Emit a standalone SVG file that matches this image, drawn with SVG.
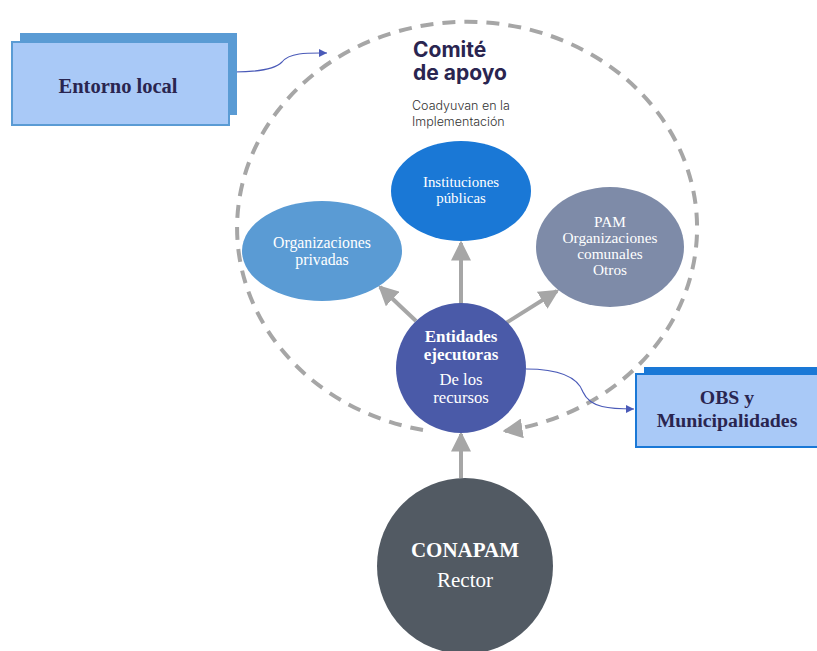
<svg xmlns="http://www.w3.org/2000/svg" width="817" height="651" viewBox="0 0 817 651">
<defs>
<style>
.serif{font-family:"Liberation Serif","DejaVu Serif",serif;text-anchor:middle}
.w{fill:#ffffff}
.dk{fill:#2a2550}
.gray{stroke:#a6a6a6;stroke-width:4;fill:none}
.thin{stroke:#4a5ab8;stroke-width:1.2;fill:none}
</style>
<marker id="ag" markerUnits="userSpaceOnUse" markerWidth="20" markerHeight="20" refX="14" refY="8" orient="auto" viewBox="0 0 16 16">
<path d="M0,0 L16,8 L0,16 Z" fill="#a6a6a6"/>
</marker>
<marker id="ab" markerUnits="userSpaceOnUse" markerWidth="8" markerHeight="8" refX="6" refY="3" orient="auto" viewBox="0 0 6 6">
<path d="M0,0 L6,3 L0,6 Z" fill="#4a5ab8"/>
</marker>
</defs>
<rect width="817" height="651" fill="#ffffff"/>

<g id="connectors">
<path class="gray" stroke-width="3" stroke-dasharray="13 9" d="M 423 430 A 230 206 0 1 1 505 431" marker-end="url(#ag)"/>
<line class="gray" x1="461" y1="478" x2="461" y2="434" marker-end="url(#ag)"/>
<line class="gray" x1="461" y1="304" x2="461" y2="243" marker-end="url(#ag)"/>
<line class="gray" x1="416" y1="321" x2="380" y2="287" marker-end="url(#ag)"/>
<line class="gray" x1="506" y1="323" x2="557" y2="291" marker-end="url(#ag)"/>
<path class="thin" d="M 234 72 C 262 72 276 68 282 62 C 290 52 310 53 327 53" marker-end="url(#ab)"/>
<path class="thin" d="M 526 369 C 560 369 578 378 583 392 C 590 408 610 409 634 409" marker-end="url(#ab)"/>
</g>

<g id="comite">
<text x="413" y="57" font-family="Inter,'Noto Sans',sans-serif" font-weight="700" font-size="21" fill="#2a2550">Comité</text>
<text x="413" y="80" font-family="Inter,'Noto Sans',sans-serif" font-weight="700" font-size="21" fill="#2a2550">de apoyo</text>
<text x="412" y="110" font-family="Inter,'Noto Sans',sans-serif" font-weight="300" font-size="12.5" fill="#333333">Coadyuvan en la</text>
<text x="412" y="126" font-family="Inter,'Noto Sans',sans-serif" font-weight="300" font-size="12.5" fill="#333333">Implementación</text>
</g>

<g id="entorno">
<rect x="20" y="33" width="217" height="82" fill="#5a9bd4"/>
<rect x="12" y="42" width="217" height="83" fill="#a9c9f7" stroke="#5a9bd4" stroke-width="2"/>
<text class="serif dk" x="118" y="93" font-size="20.5" font-weight="700">Entorno local</text>
</g>

<g id="obs">
<rect x="644" y="367" width="180" height="75" fill="#1a78d6"/>
<rect x="636" y="374" width="190" height="73" fill="#a9c9f7" stroke="#1a78d6" stroke-width="2"/>
<text class="serif dk" x="727" y="404" font-size="19.8" font-weight="700">OBS y</text>
<text class="serif dk" x="727" y="427" font-size="19.8" font-weight="700">Municipalidades</text>
</g>

<g id="instituciones">
<ellipse cx="461" cy="191" rx="70" ry="50" fill="#1a78d6"/>
<text class="serif w" x="461" y="187" font-size="14.9">Instituciones</text>
<text class="serif w" x="461" y="203" font-size="14.9">públicas</text>
</g>

<g id="privadas">
<ellipse cx="322" cy="251" rx="80" ry="50" fill="#5a9bd4"/>
<text class="serif w" x="322" y="248" font-size="15.8">Organizaciones</text>
<text class="serif w" x="322" y="265" font-size="15.8">privadas</text>
</g>

<g id="pam">
<ellipse cx="610" cy="247" rx="74" ry="60" fill="#7e8ba8"/>
<text class="serif w" x="610" y="227" font-size="15.3">PAM</text>
<text class="serif w" x="610" y="243" font-size="15.3">Organizaciones</text>
<text class="serif w" x="610" y="259" font-size="15.3">comunales</text>
<text class="serif w" x="610" y="275" font-size="15.3">Otros</text>
</g>

<g id="entidades">
<circle cx="461" cy="368" r="65" fill="#4a5aa8"/>
<text class="serif w" x="461" y="342" font-size="17" font-weight="700">Entidades</text>
<text class="serif w" x="461" y="360" font-size="17" font-weight="700">ejecutoras</text>
<text class="serif w" x="461" y="385" font-size="16.7">De los</text>
<text class="serif w" x="461" y="403" font-size="16.7">recursos</text>
</g>

<g id="conapam">
<circle cx="465" cy="566" r="88" fill="#525a63"/>
<text class="serif w" x="465" y="557" font-size="21" font-weight="700">CONAPAM</text>
<text class="serif w" x="465" y="587" font-size="21">Rector</text>
</g>
</svg>
